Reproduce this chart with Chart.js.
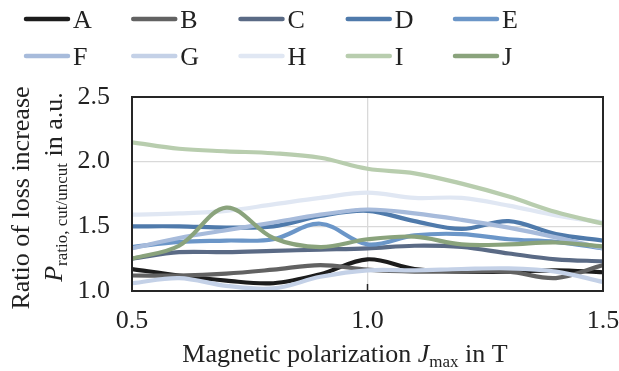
<!DOCTYPE html>
<html>
<head>
<meta charset="utf-8">
<script src="https://cdn.jsdelivr.net/npm/chart.js@4.4.1/dist/chart.umd.min.js"></script>
<style>
html,body{margin:0;padding:0;background:#fff;}
canvas{display:block;}
</style>
</head>
<body>
<canvas id="c" width="619" height="371"></canvas>
<script>
// ---- data ----
const polarization = [0.5, 0.6, 0.7, 0.8, 0.9, 1.0, 1.1, 1.2, 1.3, 1.4, 1.5];
const seriesNames = ["A", "B", "C", "D", "E", "F", "G", "H", "I", "J"];
const seriesA = [1.17, 1.12, 1.08, 1.06, 1.13, 1.245, 1.17, 1.15, 1.15, 1.16, 1.145];
const seriesB = [1.12, 1.12, 1.135, 1.165, 1.20, 1.165, 1.15, 1.15, 1.15, 1.10, 1.20];
const seriesC = [1.25, 1.30, 1.30, 1.31, 1.32, 1.33, 1.35, 1.34, 1.29, 1.245, 1.23];
const seriesD = [1.50, 1.50, 1.49, 1.50, 1.58, 1.62, 1.54, 1.48, 1.54, 1.44, 1.39];
const seriesE = [1.34, 1.38, 1.39, 1.40, 1.52, 1.36, 1.43, 1.44, 1.40, 1.38, 1.33];
const seriesF = [1.33, 1.41, 1.47, 1.53, 1.59, 1.63, 1.60, 1.55, 1.49, 1.415, 1.33];
const seriesG = [1.06, 1.10, 1.04, 1.02, 1.11, 1.16, 1.16, 1.17, 1.175, 1.15, 1.07];
const seriesH = [1.59, 1.60, 1.62, 1.67, 1.72, 1.76, 1.72, 1.72, 1.66, 1.585, 1.53];
const seriesI = [2.15, 2.10, 2.08, 2.065, 2.03, 1.945, 1.91, 1.83, 1.73, 1.61, 1.52];
const seriesJ = [1.25, 1.35, 1.645, 1.41, 1.34, 1.40, 1.42, 1.36, 1.36, 1.375, 1.345];
const xTicks = [0.5, 1.0, 1.5];
const yTicks = [1.0, 1.5, 2.0, 2.5];

const allSeries = [seriesA, seriesB, seriesC, seriesD, seriesE, seriesF, seriesG, seriesH, seriesI, seriesJ];
const colors = ["#1c1c1c", "#626262", "#5a6a85", "#4f7aab", "#6b96c8", "#a7bbdb", "#c4d1e7", "#e0e7f3", "#b8cdae", "#8aa37c"];

const FONT = "'Liberation Serif', 'Times New Roman', serif";
const FS = 26;
const SUB = 17;
const TEXT = "#222222";

const datasets = allSeries.map((vals, i) => ({
  label: seriesNames[i],
  data: polarization.map((x, k) => ({x: x, y: vals[k]})),
  borderColor: colors[i],
  backgroundColor: colors[i],
  borderWidth: 4.2,
  pointRadius: 0,
  tension: 0.35,
  fill: false,
  order: allSeries.length - i
}));

function drawRich(ctx, parts, x, y, align) {
  const fontOf = p => (p.italic ? "italic " : "") + (p.sub ? SUB : FS) + "px " + FONT;
  let total = 0;
  parts.forEach(p => { ctx.font = fontOf(p); total += ctx.measureText(p.t).width; });
  let cx = align === "center" ? x - total / 2 : x;
  ctx.textAlign = "left";
  ctx.textBaseline = "alphabetic";
  parts.forEach(p => {
    ctx.font = fontOf(p);
    ctx.fillText(p.t, cx, y + (p.sub ? 5 : 0));
    cx += ctx.measureText(p.t).width;
  });
}

const decor = {
  id: "decor",
  afterDatasetsDraw(chart) {
    const ctx = chart.ctx;
    const a = chart.chartArea;
    const xs = chart.scales.x;
    ctx.save();
    ctx.strokeStyle = "#262626";
    ctx.lineWidth = 2;
    ctx.strokeRect(a.left, a.top, a.right - a.left, a.bottom - a.top);
    ctx.lineWidth = 1.5;
    xTicks.forEach(v => {
      const px = xs.getPixelForValue(v);
      ctx.beginPath();
      ctx.moveTo(px, a.bottom);
      ctx.lineTo(px, a.bottom - 7);
      ctx.stroke();
    });
    ctx.restore();
  },
  afterDraw(chart) {
    const ctx = chart.ctx;
    ctx.save();
    ctx.fillStyle = TEXT;
    chart.data.datasets.forEach((ds, i) => {
      const col = i % 5, row = Math.floor(i / 5);
      const x0 = 24 + col * 107.25;
      const ly = 19 + row * 37;
      ctx.strokeStyle = ds.borderColor;
      ctx.lineWidth = 4.5;
      ctx.lineCap = "round";
      ctx.beginPath();
      ctx.moveTo(x0 + 2, ly);
      ctx.lineTo(x0 + 44, ly);
      ctx.stroke();
      ctx.font = FS + "px " + FONT;
      ctx.textAlign = "left";
      ctx.textBaseline = "alphabetic";
      ctx.fillStyle = TEXT;
      ctx.fillText(ds.label, x0 + 49, 27.5 + row * 37.5);
    });
    drawRich(ctx, [
      {t: "Magnetic polarization "},
      {t: "J", italic: true},
      {t: "max", sub: true},
      {t: " in T"}
    ], 345, 362, "center");
    ctx.save();
    ctx.translate(29, 198);
    ctx.rotate(-Math.PI / 2);
    drawRich(ctx, [{t: "Ratio of loss increase"}], 0, 0, "center");
    ctx.restore();
    ctx.save();
    ctx.translate(62, 187);
    ctx.rotate(-Math.PI / 2);
    drawRich(ctx, [
      {t: "P", italic: true},
      {t: "ratio, cut/uncut", sub: true},
      {t: " in a.u."}
    ], 0, 0, "center");
    ctx.restore();
    ctx.restore();
  }
};

new Chart(document.getElementById("c"), {
  type: "line",
  data: { datasets: datasets },
  plugins: [decor],
  options: {
    responsive: false,
    animation: false,
    devicePixelRatio: 1,
    layout: { padding: { top: 97, left: 0, right: 16, bottom: 0 } },
    plugins: { legend: { display: false }, tooltip: { enabled: false } },
    scales: {
      x: {
        type: "linear",
        min: xTicks[0],
        max: xTicks[xTicks.length - 1],
        afterBuildTicks: s => { s.ticks = xTicks.map(v => ({value: v})); },
        afterFit: s => { s.height = 80; s.paddingLeft = 0; s.paddingRight = 0; },
        ticks: {
          callback: v => Number(v).toFixed(1),
          font: { family: FONT, size: FS },
          color: TEXT,
          padding: 15,
          maxRotation: 0,
          autoSkip: false
        },
        grid: { color: "#d9d9d9", lineWidth: 1.3, drawTicks: false },
        border: { display: false }
      },
      y: {
        type: "linear",
        min: yTicks[0],
        max: yTicks[yTicks.length - 1],
        afterBuildTicks: s => { s.ticks = yTicks.map(v => ({value: v})); },
        afterFit: s => { s.width = 132; s.paddingTop = 0; s.paddingBottom = 0; },
        ticks: {
          callback: v => Number(v).toFixed(1),
          font: { family: FONT, size: FS },
          color: TEXT,
          padding: 22
        },
        grid: { color: "#d9d9d9", lineWidth: 1.3, drawTicks: false },
        border: { display: false }
      }
    }
  }
});
</script>
</body>
</html>
